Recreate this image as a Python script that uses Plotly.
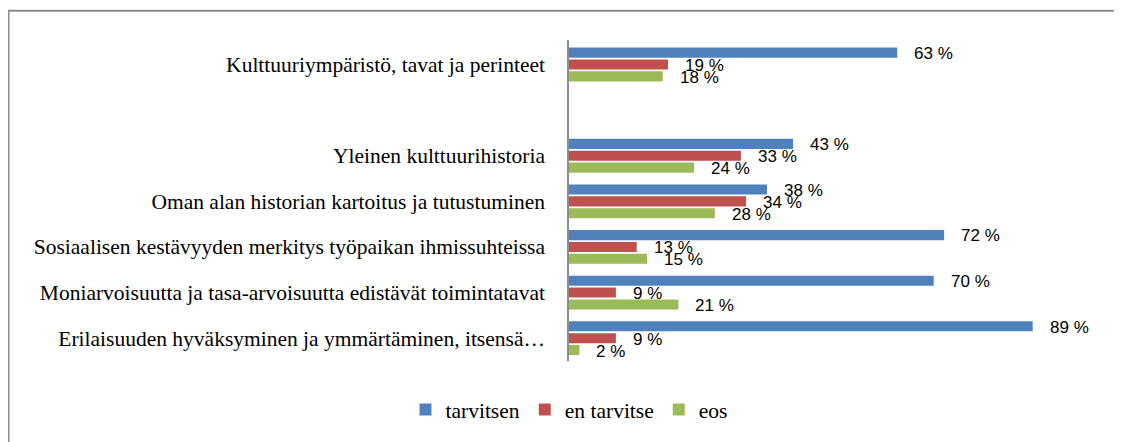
import plotly.graph_objects as go

# Categories from top to bottom (empty slot between first and second)
categories = [
    'Kulttuuriympäristö, tavat ja perinteet',
    ' ',
    'Yleinen kulttuurihistoria',
    'Oman alan historian kartoitus ja tutustuminen',
    'Sosiaalisen kestävyyden merkitys työpaikan ihmissuhteissa',
    'Moniarvoisuutta ja tasa-arvoisuutta edistävät toimintatavat',
    'Erilaisuuden hyväksyminen ja ymmärtäminen, itsensä…',
]
tarvitsen = [63, None, 43, 38, 72, 70, 89]
en_tarvitse = [19, None, 33, 34, 13, 9, 9]
eos = [18, None, 24, 28, 15, 21, 2]

series = [
    ('tarvitsen', tarvitsen, '#4F81BD', 11),
    ('en tarvitse', en_tarvitse, '#C0504D', -1),
    ('eos', eos, '#9BBB59', -13),
]

fig = go.Figure()
annotations = []
for name, vals, color, dy in series:
    fig.add_trace(go.Bar(
        y=categories,
        x=vals,
        name=name,
        orientation='h',
        marker=dict(color=color, line=dict(width=0)),
    ))
    for cat, v in zip(categories, vals):
        if v is None:
            continue
        annotations.append(dict(
            x=v, y=cat, xref='x', yref='y',
            text=f'{v} %', showarrow=False,
            xanchor='left', yanchor='middle',
            xshift=15, yshift=dy,
            font=dict(family='Liberation Sans', size=17, color='#000000'),
        ))

# page body adds an 8px offset, so the figure is 8px smaller than the window
fig.update_layout(
    width=1114,
    height=434,
    margin=dict(l=561, r=32, t=32, b=78),
    paper_bgcolor='white',
    plot_bgcolor='white',
    barmode='group',
    bargap=0.22,
    bargroupgap=0.15,
    annotations=annotations,
    xaxis=dict(range=[0, 100], visible=False, showgrid=False, zeroline=False),
    yaxis=dict(
        categoryorder='array',
        categoryarray=categories,
        autorange='reversed',
        showline=True, linecolor='#8c8c8c', linewidth=1.5,
        showgrid=False, zeroline=False,
        ticks='', ticklabelstandoff=18,
        tickfont=dict(family='Liberation Serif', size=21.5, color='#000000'),
    ),
    legend=dict(
        orientation='h',
        x=0.0, xanchor='center',
        y=-0.151, yanchor='middle',
        font=dict(family='Liberation Serif', size=21.5, color='#000000'),
        itemwidth=30,
    ),
    shapes=[dict(
        type='rect', xref='paper', yref='paper',
        x0=-1.0758, x1=1.0595, y0=-0.35, y1=1.091,
        line=dict(color='#8c8c8c', width=2),
        fillcolor='rgba(0,0,0,0)', layer='below',
    )],
)

fig.write_html('out.html')
